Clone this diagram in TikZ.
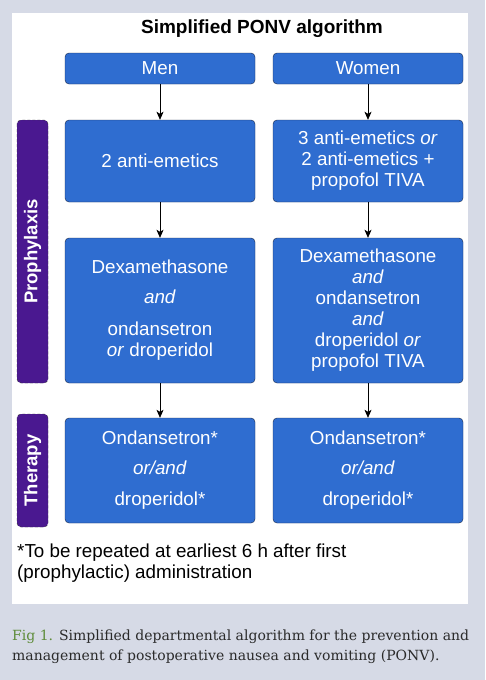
\documentclass[tikz,border=0pt]{standalone}
\usepackage{fontspec}
\setmainfont{Liberation Sans}
\newfontfamily\capfont{DejaVu Serif}
\usepackage{tikz}
\usetikzlibrary{arrows,arrows.meta,positioning,calc,backgrounds}

\definecolor{pageblue}{HTML}{D6DAE6}
\definecolor{boxblue}{HTML}{2F6DD0}
\definecolor{boxline}{HTML}{1B2A4A}
\definecolor{sidepurple}{HTML}{4A1890}
\definecolor{figgreen}{HTML}{5E8C3A}
\definecolor{captext}{HTML}{2A2A2A}

\tikzset{
  stepbox/.style={draw=boxline, fill=boxblue, rounded corners=4pt, text=white,
    align=center, minimum width=190pt, inner sep=0pt,
    font=\fontsize{18.8}{21}\selectfont},
  sidebox/.style={draw=black!80, densely dashed, fill=sidepurple, rounded corners=4pt,
    text=white, rotate=90, minimum height=31pt, inner sep=0pt,
    font=\bfseries\fontsize{18.5}{21}\selectfont},
  flow/.style={-{Stealth[length=8pt, width=7pt, inset=2pt]}, black, line width=0.7pt}
}

\begin{document}
\begin{tikzpicture}[x=1pt, y=-1pt]
% page and panel
\fill[pageblue] (0,0) rectangle (485,680);
\fill[white] (12,13) rectangle (468,604);
\useasboundingbox (0,0) rectangle (485,680);

\node (title) at (262,29) {\bfseries\fontsize{19}{21}\selectfont Simplified PONV algorithm};

%Men
\node[stepbox, minimum height=31pt] (men) at (160,68.5) {Men};
\node[stepbox, minimum height=82pt] (men1) at (160,161) {2 anti-emetics};
\node[stepbox, minimum height=145pt] (men2) at (160,310.5) {Dexamethasone\\[9pt] \textit{and}\\[11pt] ondansetron\\ \textit{or} droperidol};
\node[stepbox, minimum height=105pt] (men3) at (160,470.5) {Ondansetron*\\[9pt] \textit{or/and}\\[10pt] droperidol*};

%Women
\node[stepbox, minimum height=31pt] (women) at (368,68.5) {Women};
\node[stepbox, minimum height=82pt] (women1) at (368,161) {3 anti-emetics \textit{or}\\ 2 anti-emetics +\\ propofol TIVA};
\node[stepbox, minimum height=145pt] (women2) at (368,310.5) {Dexamethasone\\ \textit{and}\\ ondansetron\\ \textit{and}\\ droperidol \textit{or}\\ propofol TIVA};
\node[stepbox, minimum height=105pt] (women3) at (368,470.5) {Ondansetron*\\[9pt] \textit{or/and}\\[10pt] droperidol*};

\draw[flow] (men) -- (men1);
\draw[flow] (men1) -- (men2);
\draw[flow] (men2) -- (men3);
\draw[flow] (women) -- (women1);
\draw[flow] (women1) -- (women2);
\draw[flow] (women2) -- (women3);

%side labels
\node[sidebox, minimum width=263pt] (prophylaxis) at (32.5,251.5) {Prophylaxis};
\node[sidebox, minimum width=113pt] (therapy) at (32.5,470.5) {Therapy};

\node[anchor=west, align=left, inner sep=0pt, font=\fontsize{18.8}{21}\selectfont] (note) at (17,563.5)
  {*To be repeated at earliest 6 h after first\\(prophylactic) administration};

% caption
\node[anchor=west, align=left, inner sep=0pt, text=captext, font=\capfont\fontsize{14}{20}\selectfont] (caption) at (12,647)
  {\textcolor{figgreen}{Fig 1.} Simplified departmental algorithm for the prevention and\\
   management of postoperative nausea and vomiting (PONV).};
\end{tikzpicture}
\end{document}
